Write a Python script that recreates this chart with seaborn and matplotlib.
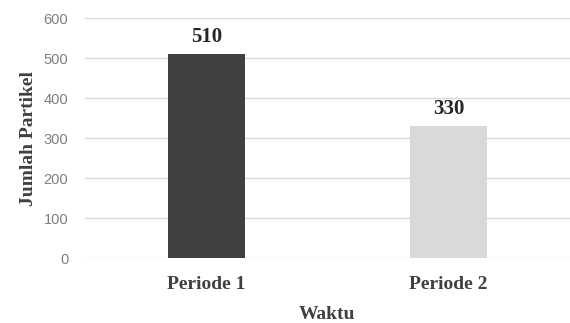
import matplotlib
matplotlib.use('Agg')
import pandas as pd
import seaborn as sns
from matplotlib import pyplot as plt

# data
periode = ['Periode 1', 'Periode 2']
jumlah = [510, 330]
warna = ['#404040', '#d9d9d9']

df = pd.DataFrame({'Waktu': periode, 'Jumlah': jumlah})

sns.set_style('white')
plt.rcParams['font.family'] = ['Liberation Serif', 'DejaVu Serif']

fig = plt.figure(figsize=(5.7, 3.23), dpi=100)
ax = fig.add_axes([0.149, 0.201, 0.851, 0.743])

sns.barplot(data=df, x='Waktu', y='Jumlah', hue='Waktu', palette=warna,
            width=0.316, legend=False, ax=ax, zorder=3, linewidth=0)

ax.set_ylim(0, 600)
ax.set_xlim(-0.5, 1.5)
ax.set_yticks(range(0, 601, 100))
ax.grid(axis='y', color='#d9d9d9', linewidth=1, zorder=0)
for s in ax.spines.values():
    s.set_visible(False)
ax.tick_params(axis='y', length=0, pad=12, labelsize=10.5, labelcolor='#7f7f7f')
ax.tick_params(axis='x', length=0, pad=13, labelsize=14, labelcolor='#404040')
for t in ax.get_yticklabels():
    t.set_fontfamily(['Liberation Sans', 'DejaVu Sans'])
for t in ax.get_xticklabels():
    t.set_fontweight('bold')

# angka di atas batang
for c in ax.containers:
    ax.bar_label(c, padding=5, fontsize=15, fontweight='bold', color='#262626')

ax.set_xlabel('Waktu', fontsize=14, fontweight='bold', color='#404040', labelpad=9)
ax.set_ylabel('Jumlah Partikel', fontsize=14, fontweight='bold', color='#404040', labelpad=5)

fig.savefig('out.png', dpi=100)
